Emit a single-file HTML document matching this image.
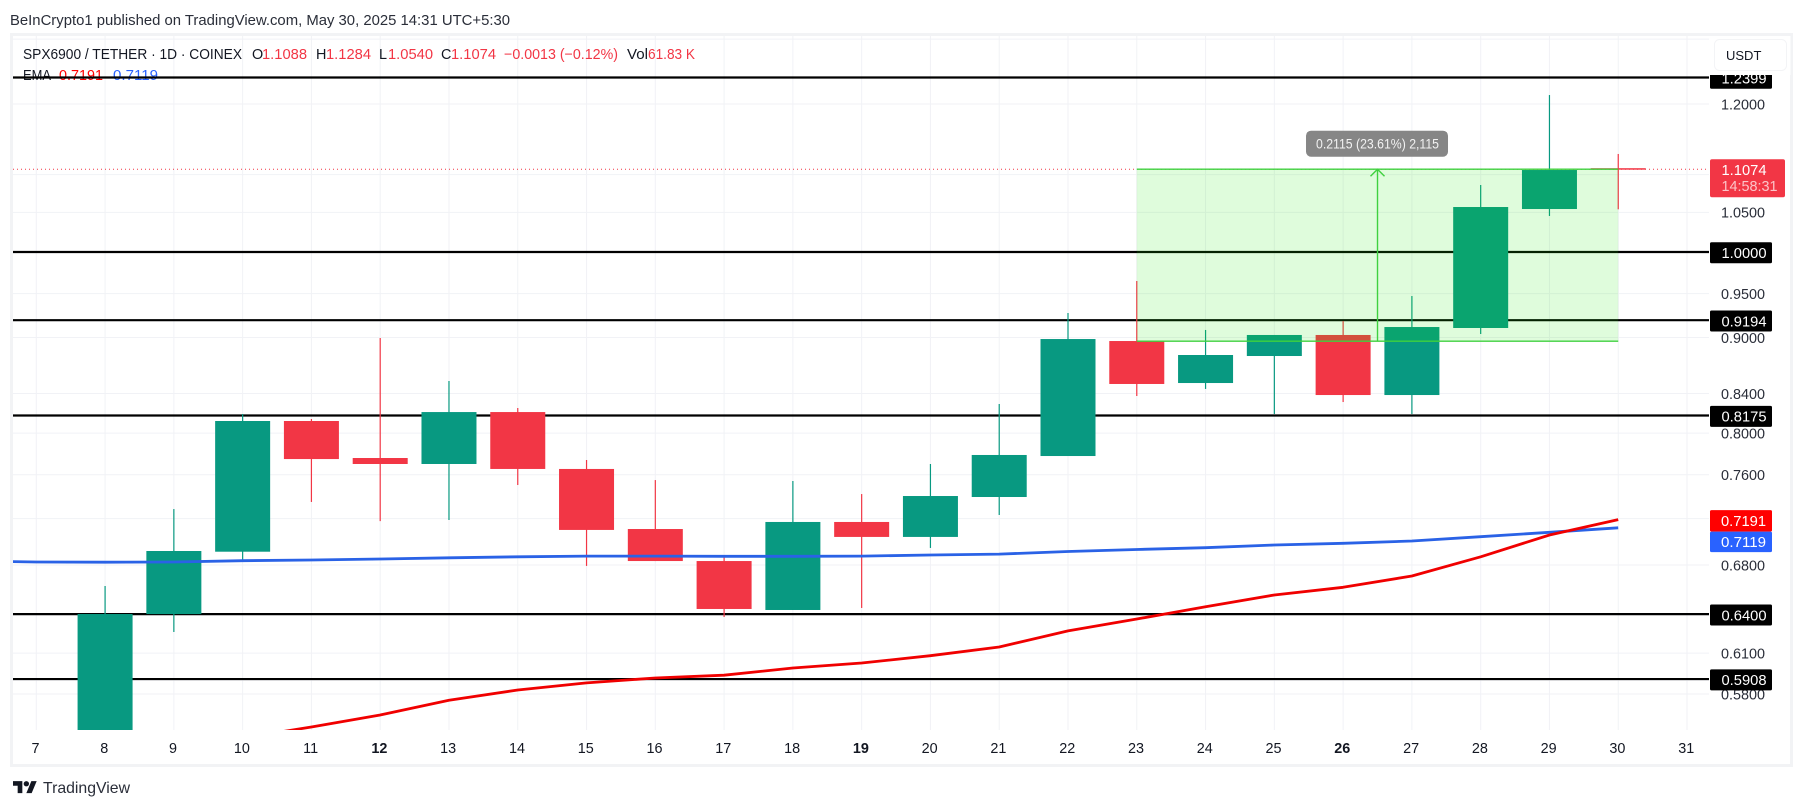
<!DOCTYPE html>
<html lang="en">
<head>
<meta charset="utf-8">
<title>SPX6900 / TETHER daily chart</title>
<style>
html,body{margin:0;padding:0;background:#fff;width:1804px;height:809px;overflow:hidden}
svg{display:block;font-family:"Liberation Sans",sans-serif}
text{white-space:pre}
</style>
</head>
<body>
<svg id="chart" xmlns="http://www.w3.org/2000/svg" width="1804" height="809" viewBox="0 0 1804 809">
  <defs>
    <clipPath id="pane-clip"><rect x="13" y="36" width="1696" height="694"/></clipPath>
  </defs>
  <rect x="0" y="0" width="1804" height="809" fill="#ffffff"/>
  <text x="10" y="25" font-size="14.4" fill="#2a2e39" textLength="500" lengthAdjust="spacingAndGlyphs">BeInCrypto1 published on TradingView.com, May 30, 2025 14:31 UTC+5:30</text>
  <rect x="11.5" y="34.5" width="1780" height="731" fill="#ffffff" stroke="#f2f3f5" stroke-width="3"/>

  <g id="grid-layer"></g>

  <g font-size="14.4">
    <text x="23" y="59" fill="#131722" textLength="219" lengthAdjust="spacingAndGlyphs">SPX6900 / TETHER · 1D · COINEX</text>
    <text x="252" y="59" fill="#131722">O</text>
    <text x="262" y="59" fill="#f23645" textLength="45" lengthAdjust="spacingAndGlyphs">1.1088</text>
    <text x="316" y="59" fill="#131722">H</text>
    <text x="326" y="59" fill="#f23645" textLength="45" lengthAdjust="spacingAndGlyphs">1.1284</text>
    <text x="379" y="59" fill="#131722">L</text>
    <text x="388" y="59" fill="#f23645" textLength="45" lengthAdjust="spacingAndGlyphs">1.0540</text>
    <text x="441" y="59" fill="#131722">C</text>
    <text x="451" y="59" fill="#f23645" textLength="45" lengthAdjust="spacingAndGlyphs">1.1074</text>
    <text x="504" y="59" fill="#f23645" textLength="114" lengthAdjust="spacingAndGlyphs">−0.0013 (−0.12%)</text>
    <text x="627" y="59" fill="#131722" textLength="21" lengthAdjust="spacingAndGlyphs">Vol</text>
    <text x="648" y="59" fill="#f23645" textLength="47" lengthAdjust="spacingAndGlyphs">61.83 K</text>
    <text x="23" y="80" fill="#131722" textLength="28" lengthAdjust="spacingAndGlyphs">EMA</text>
    <text x="59" y="80" fill="#ff0000" textLength="44" lengthAdjust="spacingAndGlyphs">0.7191</text>
    <text x="113" y="80" fill="#2962ff" textLength="45" lengthAdjust="spacingAndGlyphs">0.7119</text>
  </g>

  <g clip-path="url(#pane-clip)">
    <g id="level-layer"></g>
    <g id="price-line-layer"></g>
    <g id="candle-layer"></g>
    <g id="ema-layer"></g>
    <g id="position-layer"></g>
  </g>

  <g id="price-axis" font-size="14.4"></g>
  <g id="time-axis" font-size="14.4"></g>

  <rect x="1709.5" y="36" width="81" height="39" fill="#ffffff"/>
  <rect x="1714.5" y="39.5" width="72" height="31" rx="5" fill="#ffffff" stroke="#f3f4f6" stroke-width="1"/>
  <text x="1726" y="60" font-size="13" fill="#131722">USDT</text>

  <g>
    <g transform="translate(13,778.4) scale(0.667)" fill="#131722">
      <path d="M14 22H7V11H0V4h14v18zM28 22h-8l7.5-18h8L28 22z"/>
      <circle cx="20" cy="8" r="4"/>
    </g>
    <text x="43" y="793" font-size="16" fill="#2a2e39" textLength="87" lengthAdjust="spacingAndGlyphs">TradingView</text>
  </g>
</svg>

<script>
// ---- chart data ----
const axisDays = [7,8,9,10,11,12,13,14,15,16,17,18,19,20,21,22,23,24,25,26,27,28,29,30,31];
const boldDays = [12,19,26];
const candleDays = [8,9,10,11,12,13,14,15,16,17,18,19,20,21,22,23,24,25,26,27,28,29,30];
const opens  = [0.5400,0.6401,0.6912,0.8120,0.7758,0.7701,0.8210,0.7654,0.7108,0.6833,0.6433,0.7170,0.7039,0.7394,0.7777,0.8961,0.8509,0.8797,0.9028,0.8384,0.9106,1.0544,1.1088];
const highs  = [0.6626,0.7285,0.8190,0.8140,0.8994,0.8530,0.8251,0.7739,0.7550,0.6867,0.7541,0.7421,0.7701,0.8292,0.9276,0.9649,0.9084,0.9028,0.9185,0.9472,1.0861,1.2134,1.1284];
const lows   = [0.5300,0.6261,0.6842,0.7349,0.7178,0.7187,0.7504,0.6792,0.6833,0.6378,0.6433,0.6449,0.6944,0.7232,0.7777,0.8374,0.8447,0.8190,0.8312,0.8190,0.9039,1.0454,1.0540];
const closes = [0.6401,0.6918,0.8120,0.7748,0.7701,0.8210,0.7654,0.7100,0.6833,0.6441,0.7170,0.7039,0.7403,0.7787,0.8983,0.8499,0.8808,0.9028,0.8384,0.9117,1.0570,1.1063,1.1074];

const emaBlueDays = [6,7,8,9,10,11,12,13,14,15,16,17,18,19,20,21,22,23,24,25,26,27,28,29,30];
const emaBlueValues = [0.6835,0.6825,0.6823,0.6825,0.6836,0.6842,0.6850,0.6860,0.6869,0.6875,0.6875,0.6873,0.6873,0.6875,0.6884,0.6892,0.6914,0.6931,0.6946,0.6969,0.6984,0.7004,0.7041,0.7079,0.7119];
const emaRedDays = [10,11,12,13,14,15,16,17,18,19,20,21,22,23,24,25,26,27,28,29,30];
const emaRedValues = [0.5494,0.5569,0.5652,0.5756,0.5829,0.5880,0.5916,0.5936,0.5989,0.6026,0.6081,0.6146,0.6269,0.6362,0.6459,0.6553,0.6615,0.6708,0.6869,0.7056,0.7191];

const levelValues = [1.2399,1.0000,0.9194,0.8175,0.6400,0.5908];
const gridPrices = [1.30,1.20,1.10,1.05,1.00,0.95,0.92,0.90,0.84,0.80,0.76,0.72,0.68,0.64,0.61,0.59,0.58];
const priceTicks = [1.2000,1.0500,0.9500,0.9000,0.8400,0.8000,0.7600,0.6800,0.6100,0.5800];

const lastPrice = 1.1074;
const countdown = '14:58:31';
const emaRedLast = 0.7191;
const emaBlueLast = 0.7119;
const positionStartDay = 23;
const positionEndDay = 30;
const positionArrowDay = 26.5;
const positionEntry = 0.8959;
const positionTarget = 1.1074;
const positionLabel = '0.2115 (23.61%) 2,115';

// ---- axis functions ----
function xScale(day){ return 36.3 + (day - 7) * 68.78; }
function yScale(price){ return 252 - Math.log(price) * 811.5; }

const NS = 'http://www.w3.org/2000/svg';
function make(parent, tag, attrs, txt){
  const n = document.createElementNS(NS, tag);
  for (const k in attrs) n.setAttribute(k, attrs[k]);
  if (txt !== undefined) n.textContent = txt;
  parent.appendChild(n);
  return n;
}
const $ = id => document.getElementById(id);

// ---- grid ----
axisDays.forEach(function(d){
  const line = make($('grid-layer'), 'line', {x1:xScale(d), x2:xScale(d), y1:36, y2:730, stroke:'#f1f2f6', 'stroke-width':1});
  
  
});
gridPrices.forEach(function(p){
  const line = make($('grid-layer'), 'line', {x1:13, x2:1709, y1:yScale(p), y2:yScale(p), stroke:'#f1f2f6', 'stroke-width':1});
  
  
});

// ---- horizontal levels ----
levelValues.forEach(function(p){
  const line = make($('level-layer'), 'line', {x1:11, x2:1709, y1:yScale(p), y2:yScale(p), stroke:'#000000', 'stroke-width':2.2});
  
  
});

// ---- last price dotted line ----
const lastLine = make($('price-line-layer'), 'line', {x1:13, x2:1709, y1:yScale(lastPrice), y2:yScale(lastPrice), stroke:'#f23645', 'stroke-width':1, 'stroke-dasharray':'1 3'});



// ---- candles ----
const bodyWidth = 55;
candleDays.forEach(function(d, i){
  const o = opens[i], h = highs[i], l = lows[i], c = closes[i];
  const color = c >= o ? '#089981' : '#f23645';
  const x = xScale(d);
  const wick = make($('candle-layer'), 'line', {x1:x, x2:x, y1:yScale(h), y2:yScale(l), stroke:color, 'stroke-width':1.2});
  
  
  const top = yScale(Math.max(o, c));
  const bottom = yScale(Math.min(o, c));
  const body = make($('candle-layer'), 'rect', {x:x - bodyWidth / 2, y:top, width:bodyWidth, height:Math.max(bottom - top, 1.5), fill:color});
  
  
});

// ---- EMA lines ----
function pointsFor(days, values){
  return days.map(function(d, i){ return xScale(d).toFixed(1) + ',' + yScale(values[i]).toFixed(1); }).join(' ');
}
const blueLine = make($('ema-layer'), 'polyline', {points:pointsFor(emaBlueDays, emaBlueValues), fill:'none', stroke:'#2a62e6', 'stroke-width':2.8, 'stroke-linejoin':'round'});


const redLine = make($('ema-layer'), 'polyline', {points:pointsFor(emaRedDays, emaRedValues), fill:'none', stroke:'#f00000', 'stroke-width':2.8, 'stroke-linejoin':'round'});



// ---- long position tool ----
const posX1 = xScale(positionStartDay);
const posX2 = xScale(positionEndDay);
const posY1 = yScale(positionTarget);
const posY2 = yScale(positionEntry);
const posRect = make($('position-layer'), 'rect', {x:posX1, y:posY1, width:posX2 - posX1, height:posY2 - posY1, fill:'rgb(26,233,5)', 'fill-opacity':0.14});


const posTop = make($('position-layer'), 'line', {x1:posX1, x2:posX2, y1:posY1, y2:posY1, stroke:'#3fd13f', 'stroke-width':1.4});


const posBottom = make($('position-layer'), 'line', {x1:posX1, x2:posX2, y1:posY2, y2:posY2, stroke:'#3fd13f', 'stroke-width':1.4});


const arrowX = xScale(positionArrowDay);
const arrowShaft = make($('position-layer'), 'line', {x1:arrowX, x2:arrowX, y1:posY2, y2:posY1, stroke:'#3fd13f', 'stroke-width':1.4});


const arrowHead = make($('position-layer'), 'polyline', {points:(arrowX - 7) + ',' + (posY1 + 7) + ' ' + arrowX + ',' + posY1 + ' ' + (arrowX + 7) + ',' + (posY1 + 7), fill:'none', stroke:'#3fd13f', 'stroke-width':1.4});


const tipBox = make($('position-layer'), 'rect', {x:arrowX - 71.5, y:posY1 - 38.5, width:142, height:26, rx:5, fill:'#868686'});


const tipText = make($('position-layer'), 'text', {x:arrowX - 61.5, y:posY1 - 20.5, 'font-size':14, fill:'#f2f2f2', textLength:123, lengthAdjust:'spacingAndGlyphs'}, positionLabel);



// ---- price axis ----
priceTicks.forEach(function(p){
  const t = make($('price-axis'), 'text', {x:1721, y:yScale(p) + 5.3, fill:'#2a2e39', textLength:44, lengthAdjust:'spacingAndGlyphs'}, p.toFixed(4));
  
  
});
levelValues.forEach(function(p){
  const cy = yScale(p) + 0.8;
  const r = make($('price-axis'), 'rect', {x:1710, y:cy - 10.5, width:62, height:21, rx:1.5, fill:'#000000'});
  
  
  const t = make($('price-axis'), 'text', {x:1721.5, y:cy + 5.3, fill:'#ffffff', textLength:45, lengthAdjust:'spacingAndGlyphs'}, p.toFixed(4));
  
  
});
const lastTag = make($('price-axis'), 'rect', {x:1710, y:yScale(lastPrice) - 10, width:75, height:38, rx:2, fill:'#f23645'});


const lastTagText = make($('price-axis'), 'text', {x:1721.5, y:yScale(lastPrice) + 6, fill:'#ffffff', textLength:45, lengthAdjust:'spacingAndGlyphs'}, lastPrice.toFixed(4));


const cdText = make($('price-axis'), 'text', {x:1721.5, y:yScale(lastPrice) + 22, fill:'#fcc4c8', textLength:56, lengthAdjust:'spacingAndGlyphs'}, countdown);


const redTag = make($('price-axis'), 'rect', {x:1710, y:yScale(emaRedLast) - 9.5, width:62, height:21.5, rx:1.5, fill:'#ff0000'});


const redTagText = make($('price-axis'), 'text', {x:1721, y:yScale(emaRedLast) + 6.3, fill:'#ffffff', textLength:45, lengthAdjust:'spacingAndGlyphs'}, emaRedLast.toFixed(4));


const blueTag = make($('price-axis'), 'rect', {x:1710, y:yScale(emaRedLast) + 12, width:62, height:20.5, rx:1.5, fill:'#2962ff'});


const blueTagText = make($('price-axis'), 'text', {x:1721, y:yScale(emaRedLast) + 27.3, fill:'#ffffff', textLength:45, lengthAdjust:'spacingAndGlyphs'}, emaBlueLast.toFixed(4));



// ---- time axis ----
axisDays.forEach(function(d){
  const bold = boldDays.indexOf(d) >= 0;
  const t = make($('time-axis'), 'text', {x:xScale(d) - 0.8, y:753, 'text-anchor':'middle', fill:'#131722', 'font-weight':bold ? 'bold' : 'normal'}, String(d));
  
  
});
</script>
</body>
</html>
